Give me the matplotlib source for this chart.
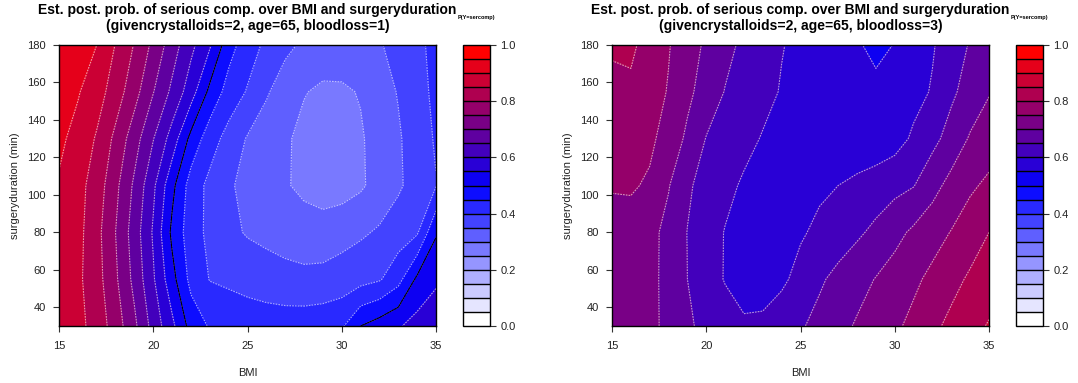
import numpy as np
import matplotlib
matplotlib.use("Agg")
import matplotlib.pyplot as plt
from matplotlib.colors import LinearSegmentedColormap

plt.rcParams['font.family'] = ['Liberation Sans', 'DejaVu Sans']

# grid of the estimated surface
bmi = list(range(15, 36))
duration = [30, 55, 80, 105, 130, 155, 180]

# panel 1 (bloodloss=1), rows follow `duration`
prob_bl1 = [
    [0.885, 0.865, 0.830, 0.776, 0.711, 0.631, 0.562, 0.481, 0.445, 0.437, 0.432,
     0.428, 0.427, 0.428, 0.432, 0.443, 0.500, 0.523, 0.545, 0.568, 0.590],
    [0.885, 0.860, 0.820, 0.758, 0.686, 0.606, 0.517, 0.435, 0.398, 0.390, 0.380,
     0.372, 0.365, 0.362, 0.365, 0.372, 0.383, 0.395, 0.433, 0.510, 0.540],
    [0.890, 0.865, 0.816, 0.750, 0.676, 0.594, 0.489, 0.423, 0.388, 0.361, 0.346,
     0.338, 0.331, 0.324, 0.322, 0.333, 0.343, 0.356, 0.375, 0.394, 0.495],
    [0.895, 0.867, 0.827, 0.763, 0.691, 0.610, 0.514, 0.428, 0.387, 0.356, 0.337,
     0.321, 0.305, 0.288, 0.277, 0.278, 0.293, 0.319, 0.343, 0.370, 0.398],
    [0.910, 0.884, 0.845, 0.788, 0.722, 0.652, 0.579, 0.485, 0.423, 0.382, 0.346,
     0.327, 0.308, 0.285, 0.272, 0.275, 0.295, 0.319, 0.344, 0.376, 0.405],
    [0.920, 0.904, 0.872, 0.826, 0.769, 0.702, 0.639, 0.573, 0.487, 0.430, 0.396,
     0.355, 0.328, 0.303, 0.290, 0.293, 0.303, 0.328, 0.353, 0.384, 0.410],
    [0.935, 0.917, 0.900, 0.848, 0.797, 0.738, 0.674, 0.613, 0.556, 0.470, 0.423,
     0.390, 0.360, 0.343, 0.333, 0.326, 0.337, 0.346, 0.366, 0.392, 0.410],
]

# panel 2 (bloodloss=3)
prob_bl3 = [
    [0.720, 0.715, 0.709, 0.691, 0.657, 0.638, 0.624, 0.610, 0.615, 0.630, 0.645,
     0.664, 0.685, 0.705, 0.723, 0.741, 0.763, 0.789, 0.812, 0.833, 0.854],
    [0.725, 0.720, 0.712, 0.687, 0.650, 0.624, 0.597, 0.572, 0.568, 0.590, 0.617,
     0.643, 0.663, 0.683, 0.702, 0.721, 0.740, 0.762, 0.785, 0.807, 0.825],
    [0.735, 0.728, 0.715, 0.685, 0.649, 0.622, 0.598, 0.582, 0.575, 0.580, 0.594,
     0.611, 0.626, 0.642, 0.661, 0.685, 0.709, 0.730, 0.752, 0.776, 0.800],
    [0.753, 0.756, 0.743, 0.703, 0.657, 0.633, 0.612, 0.594, 0.585, 0.580, 0.584,
     0.591, 0.600, 0.612, 0.624, 0.636, 0.648, 0.683, 0.716, 0.742, 0.760],
    [0.775, 0.770, 0.760, 0.730, 0.691, 0.648, 0.630, 0.613, 0.597, 0.585, 0.576,
     0.570, 0.566, 0.564, 0.568, 0.580, 0.608, 0.636, 0.669, 0.705, 0.725],
    [0.790, 0.790, 0.770, 0.747, 0.711, 0.679, 0.648, 0.631, 0.613, 0.597, 0.585,
     0.575, 0.567, 0.561, 0.557, 0.565, 0.584, 0.604, 0.641, 0.670, 0.697],
    [0.805, 0.810, 0.779, 0.753, 0.722, 0.692, 0.664, 0.640, 0.621, 0.602, 0.590,
     0.579, 0.568, 0.553, 0.543, 0.551, 0.575, 0.596, 0.624, 0.654, 0.670],
]

titles = [
    "Est. post. prob. of serious comp. over BMI and surgeryduration\n"
    "(givencrystalloids=2, age=65, bloodloss=1)",
    "Est. post. prob. of serious comp. over BMI and surgeryduration\n"
    "(givencrystalloids=2, age=65, bloodloss=3)",
]

levels = np.linspace(0, 1, 21)
ramp = LinearSegmentedColormap.from_list("wbr", ["white", "blue", "red"])
fill_colors = [ramp(i / 19) for i in range(20)]

W, H = 1078, 383
fig = plt.figure(figsize=(W / 100, H / 100), dpi=100)


def fx(px):
    return px / W


def fy(py):
    return 1 - py / H


def panel(x0, z, title):
    """ one filled.contour style panel, x0 = left pixel of plot box """
    ax = fig.add_axes([fx(x0), fy(326), fx(377), 281 / H])
    cax = fig.add_axes([fx(x0 + 404), fy(326), fx(27), 281 / H])

    zz = np.array(z)
    cs = ax.contourf(bmi, duration, zz, levels=levels, colors=fill_colors)
    ax.contour(bmi, duration, zz, levels=levels[1:-1], colors='white',
               linewidths=0.8, linestyles=[(0, (1.5, 1.0))], alpha=0.6)
    ax.contour(bmi, duration, zz, levels=[0.5], colors='black', linewidths=0.8)

    ax.set_xlim(15, 35)
    ax.set_ylim(30, 180)
    ax.set_xticks([15, 20, 25, 30, 35])
    ax.set_yticks(range(40, 181, 20))
    ax.tick_params(direction='out', length=4.5, width=0.8, labelsize=8,
                   color='#333333', labelcolor='#222222')
    ax.tick_params(axis='x', pad=6)
    ax.tick_params(axis='y', pad=5)
    for s in ax.spines.values():
        s.set_linewidth(1.0)
    ax.set_xlabel("BMI", fontsize=8, color='#222222')
    ax.set_ylabel("surgeryduration (min)", fontsize=8, color='#222222')
    ax.xaxis.set_label_coords(0.5, -0.15)
    ax.yaxis.set_label_coords(-0.104, 0.5)

    cb = fig.colorbar(cs, cax=cax, drawedges=True)
    cb.outline.set_linewidth(1.0)
    cb.dividers.set_linewidth(1.0)
    cb.set_ticks([0, 0.2, 0.4, 0.6, 0.8, 1.0])
    cb.set_ticklabels(["0.0", "0.2", "0.4", "0.6", "0.8", "1.0"])
    cax.tick_params(direction='out', length=4.5, width=0.8, labelsize=8,
                    pad=3, color='#333333', labelcolor='#222222')

    fig.text(fx(x0 + 188.5), fy(18), title, ha='center', va='center',
             fontsize=10, fontweight='bold', linespacing=1.15)
    fig.text(fx(x0 + 417), fy(17), "P(Y=sercomp)", ha='center', va='center',
             fontsize=4, fontweight='bold')


panel(59, prob_bl1, titles[0])
panel(612, prob_bl3, titles[1])

fig.savefig("out.png", dpi=100)
